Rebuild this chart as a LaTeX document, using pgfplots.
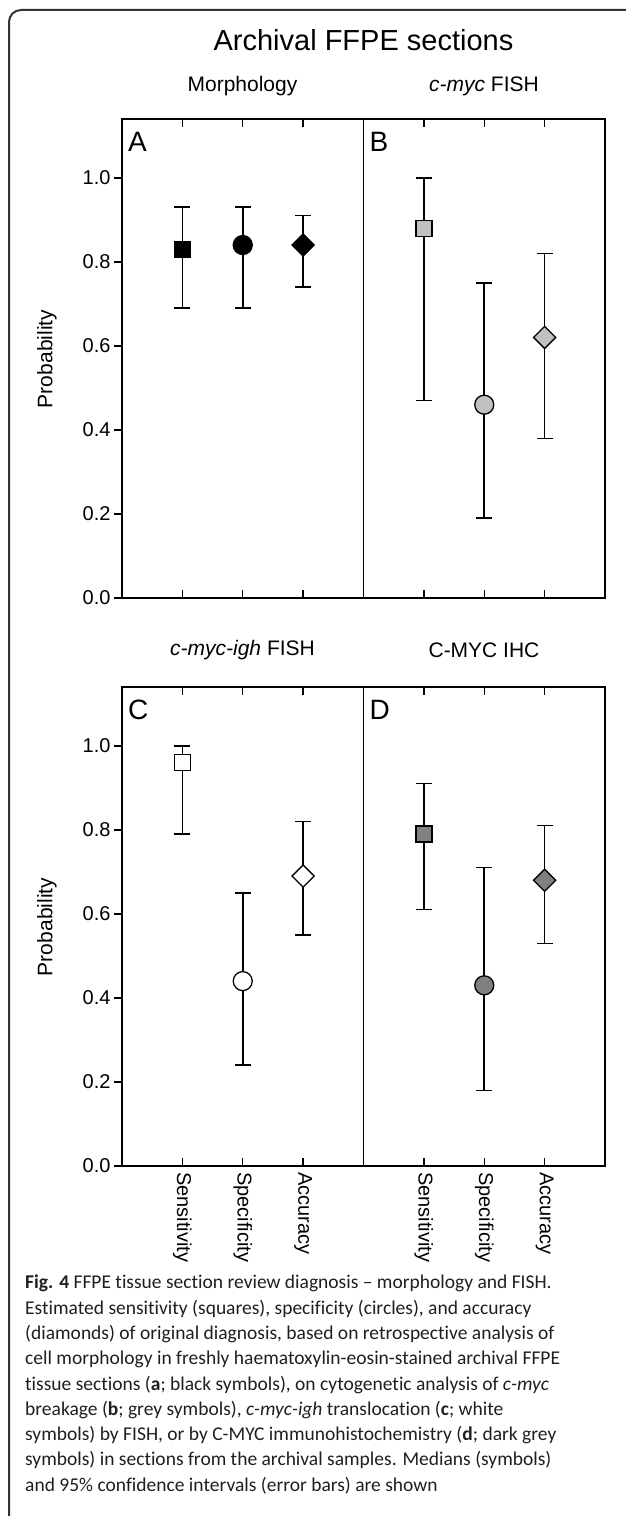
\documentclass[border=0pt]{standalone}
\usepackage{fontspec}
\setmainfont{Liberation Sans}
\newfontfamily\capfont[Ligatures={TeX,NoCommon}]{Carlito}
\usepackage{pgfplots}
\usepackage{pgfplotstable}
\pgfplotsset{compat=1.18}

\definecolor{ltgrey}{RGB}{192,192,192}
\definecolor{dkgrey}{RGB}{128,128,128}

% x = category, y = median, ep/em = distance to upper/lower 95% CI
\pgfplotstableread{
x y ep em
1 0.83 0.10 0.14
2 0.84 0.09 0.15
3 0.84 0.07 0.10
}\dataA
\pgfplotstableread{
x y ep em
1 0.88 0.12 0.41
2 0.46 0.29 0.27
3 0.62 0.20 0.24
}\dataB
\pgfplotstableread{
x y ep em
1 0.96 0.04 0.17
2 0.44 0.21 0.20
3 0.69 0.13 0.14
}\dataC
\pgfplotstableread{
x y ep em
1 0.79 0.12 0.18
2 0.43 0.28 0.25
3 0.68 0.13 0.15
}\dataD

\newcommand{\axfont}{\fontsize{20}{24}\selectfont}

\pgfplotsset{
  panel/.style={
    scale only axis, width=241.5pt, height=479pt,
    xmin=0, xmax=4, ymin=0, ymax=1.14,
    anchor=south west, clip=false,
    axis line style={line width=1.6pt},
    tick style={black, line width=1.4pt},
    major tick length=8pt,
    xtick={1,2,3}, xtick pos=both, xtick align=inside,
    xticklabel pos=lower,
    ytick pos=left, ytick align=outside,
    ticklabel style={font=\axfont},
    /pgf/number format/assume math mode=true,
    yticklabel style={/pgf/number format/.cd, fixed, fixed zerofill, precision=1},
  },
  leftpanel/.style={panel, ytick={0,0.2,0.4,0.6,0.8,1.0}},
  rightpanel/.style={panel, ytick=\empty},
  toprow/.style={xticklabels={}},
  bottomrow/.style={xticklabels={Sensitivity,Specificity,Accuracy},
    xticklabel style={rotate=-90, anchor=west, inner sep=6pt}},
}

\newcommand{\panelletter}[1]{%
  \node[anchor=north west, inner sep=0pt, font=\fontsize{28}{30}\selectfont,
        xshift=6pt, yshift=-13pt] at (rel axis cs:0,1) {#1};}

% error bars first, then the three symbols on top
\newcommand{\drawpanel}[2]{%
  \addplot[only marks, mark=none,
    error bars/.cd, y dir=both, y explicit,
    error bar style={black, line width=1.6pt},
    error mark options={rotate=90, black, line width=1.6pt, mark size=8pt}]
    table[x=x, y=y, y error plus=ep, y error minus=em]{#1};
  \addplot[only marks, mark=square*, mark size=8pt,
    mark options={fill=#2, draw=black, line width=1.3pt}]
    table[x=x, y=y, skip coords between index={1}{3}]{#1};
  \addplot[only marks, mark=*, mark size=9.5pt,
    mark options={fill=#2, draw=black, line width=1.3pt}]
    table[x=x, y=y, skip coords between index={0}{1}, skip coords between index={2}{3}]{#1};
  \addplot[only marks, mark=square*, mark size=7.8pt,
    mark options={rotate=45, fill=#2, draw=black, line width=1.3pt}]
    table[x=x, y=y, skip coords between index={0}{2}]{#1};
}

\begin{document}
\begin{tikzpicture}
\path[use as bounding box] (0,0) rectangle (625pt,1516pt);

% frame of the figure box
\draw[line width=2pt, black!80, rounded corners=12pt] (9pt,-5pt) -- (9pt,1506pt) -- (630pt,1506pt);

\node[font=\fontsize{29}{34}\selectfont] at (363.5pt,1476pt) {Archival FFPE sections};
\node[font=\fontsize{21}{25}\selectfont] at (242.5pt,1430pt) {Morphology};
\node[font=\fontsize{21}{25}\selectfont] at (484pt,1430pt) {\textit{c-myc} FISH};
\node[font=\fontsize{21}{25}\selectfont] at (242.5pt,866pt) {\textit{c-myc-igh} FISH};
\node[font=\fontsize{21}{25}\selectfont] at (484pt,866pt) {C-MYC IHC};

\node[rotate=90, font=\fontsize{21}{25}\selectfont] at (47pt,1157pt) {Probability};
\node[rotate=90, font=\fontsize{21}{25}\selectfont] at (47pt,589pt) {Probability};

\begin{axis}[leftpanel, toprow, at={(122pt,918pt)}]
\drawpanel{\dataA}{black}
\panelletter{A}
\end{axis}
\begin{axis}[rightpanel, toprow, at={(363.5pt,918pt)}]
\drawpanel{\dataB}{ltgrey}
\panelletter{B}
\end{axis}
\begin{axis}[leftpanel, bottomrow, at={(122pt,350pt)}]
\drawpanel{\dataC}{white}
\panelletter{C}
\end{axis}
\begin{axis}[rightpanel, bottomrow, at={(363.5pt,350pt)}]
\drawpanel{\dataD}{dkgrey}
\panelletter{D}
\end{axis}

\node[anchor=north west, inner sep=0pt, align=left, text=black!88,
      font=\capfont\fontsize{19.5}{25.3}\selectfont] at (25pt,241pt) {%
\textbf{Fig. 4} FFPE tissue section review diagnosis – morphology and FISH.\\
Estimated sensitivity (squares), specificity (circles), and accuracy\\
(diamonds) of original diagnosis, based on retrospective analysis of\\
cell morphology in freshly haematoxylin-eosin-stained archival FFPE\\
tissue sections (\textbf{a}; black symbols), on cytogenetic analysis of \textit{c-myc}\\
breakage (\textbf{b}; grey symbols), \textit{c-myc-igh} translocation (\textbf{c}; white\\
symbols) by FISH, or by C-MYC immunohistochemistry (\textbf{d}; dark grey\\
symbols) in sections from the archival samples. Medians (symbols)\\
and 95\% confidence intervals (error bars) are shown};
\end{tikzpicture}
\end{document}
